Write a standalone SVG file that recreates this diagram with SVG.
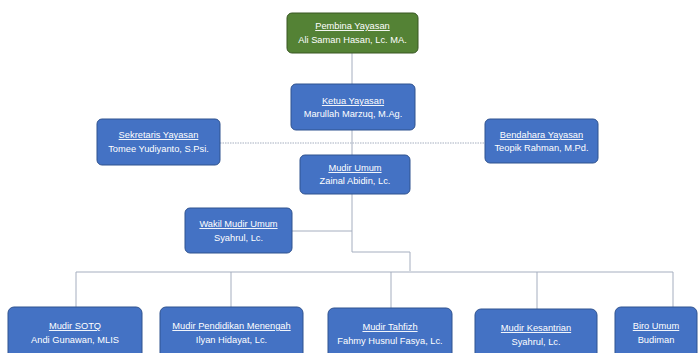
<svg xmlns="http://www.w3.org/2000/svg" width="700" height="353" viewBox="0 0 700 353">
<style>
.b{fill:#4472C4;stroke:#2F528F;stroke-width:1}
.g{fill:#548235;stroke:#385723;stroke-width:1}
text{font-family:"Liberation Sans",Arial,sans-serif;font-size:9.3px;fill:#fff;text-anchor:middle}
.t{text-decoration:underline}
.c{fill:none;stroke:#A5AEBF;stroke-width:1}
.d{fill:none;stroke:#A5AEBF;stroke-width:1;stroke-dasharray:1.5 1}
</style>
<rect width="700" height="353" fill="#fff"/>
<g id="connectors">
<path class="c" d="M352 53V84M352 130V155M352 194V252H410V271"/>
<path class="d" d="M220 143H485"/>
<path class="c" d="M292 231H352"/>
<path class="c" d="M76 307V272H673V307M231 272V307M391 272V308M537 272V309"/>
</g>
<g id="pembina"><rect class="g" x="287" y="13" width="131" height="40" rx="5"/><text class="t" x="352.5" y="29">Pembina Yayasan</text><text x="352.5" y="43">Ali Saman Hasan, Lc. MA.</text></g>
<g id="ketua"><rect class="b" x="291" y="84" width="124" height="46" rx="5"/><text class="t" x="353" y="104">Ketua Yayasan</text><text x="353" y="117">Marullah Marzuq, M.Ag.</text></g>
<g id="sekretaris"><rect class="b" x="97" y="119" width="123" height="46" rx="5"/><text class="t" x="158.5" y="138">Sekretaris Yayasan</text><text x="158.5" y="152">Tomee Yudiyanto, S.Psi.</text></g>
<g id="bendahara"><rect class="b" x="485" y="119" width="113" height="44" rx="5"/><text class="t" x="541.5" y="138">Bendahara Yayasan</text><text x="541.5" y="151">Teopik Rahman, M.Pd.</text></g>
<g id="mudir-umum"><rect class="b" x="300" y="155" width="110" height="39" rx="5"/><text class="t" x="355" y="171">Mudir Umum</text><text x="355" y="184">Zainal Abidin, Lc.</text></g>
<g id="wakil"><rect class="b" x="185" y="208" width="107" height="45" rx="5"/><text class="t" x="238.5" y="227">Wakil Mudir Umum</text><text x="238.5" y="241">Syahrul, Lc.</text></g>
<g id="soto"><rect class="b" x="8" y="307" width="134" height="55" rx="6"/><text class="t" x="75" y="329">Mudir SOTQ</text><text x="75" y="343">Andi Gunawan, MLIS</text></g>
<g id="pendidikan"><rect class="b" x="160" y="307" width="143" height="55" rx="6"/><text class="t" x="231.5" y="329">Mudir Pendidikan Menengah</text><text x="231.5" y="343">Ilyan Hidayat, Lc.</text></g>
<g id="tahfizh"><rect class="b" x="328" y="308" width="124" height="55" rx="6"/><text class="t" x="390" y="330">Mudir Tahfizh</text><text x="390" y="344">Fahmy Husnul Fasya, Lc.</text></g>
<g id="kesantrian"><rect class="b" x="475" y="309" width="122" height="55" rx="6"/><text class="t" x="536" y="331">Mudir Kesantrian</text><text x="536" y="345">Syahrul, Lc.</text></g>
<g id="biro"><rect class="b" x="615" y="307" width="82" height="55" rx="6"/><text class="t" x="656" y="329">Biro Umum</text><text x="656" y="343">Budiman</text></g>
</svg>
